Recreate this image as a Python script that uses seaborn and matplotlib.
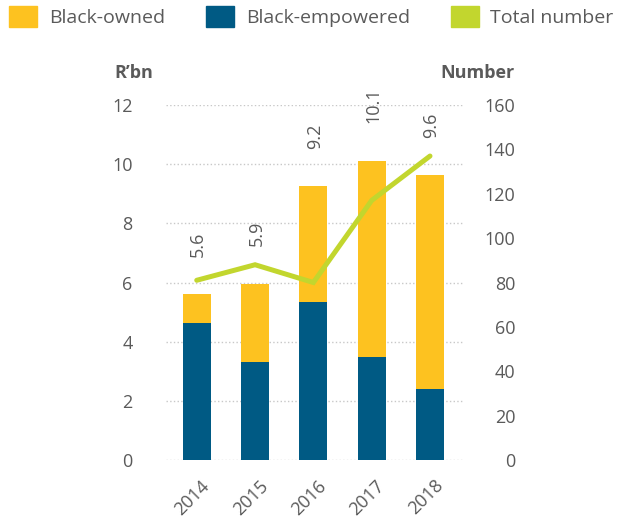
import numpy as np
import matplotlib
matplotlib.use('Agg')
import matplotlib.pyplot as plt
import matplotlib.transforms as mtransforms
from matplotlib.patches import Patch
import seaborn as sns

years = ['2014', '2015', '2016', '2017', '2018']
black_empowered = [4.64, 3.32, 5.34, 3.49, 2.41]
black_owned = [0.97, 2.63, 3.92, 6.62, 7.22]
total_labels = ['5.6', '5.9', '9.2', '10.1', '9.6']
total_number = [81, 88, 80, 117, 137]

YELLOW = '#fdc220'
BLUE = '#005a84'
GREEN = '#c2d62e'
GREY = '#5a5a5a'

sns.set_style('white')
plt.rcParams['font.family'] = ['Open Sans', 'DejaVu Sans']
plt.rcParams['text.color'] = GREY

totals = [e + o for e, o in zip(black_empowered, black_owned)]

fig = plt.figure(figsize=(6.29, 5.24), dpi=100)
ax = fig.add_axes([166 / 629, 1 - 460 / 524, 298 / 629, 355 / 524])

# stacked bars: yellow full height, blue drawn over it from zero
sns.barplot(x=years, y=totals, color=YELLOW, saturation=1, width=0.48,
            linewidth=0, ax=ax)
sns.barplot(x=years, y=black_empowered, color=BLUE, saturation=1, width=0.48,
            linewidth=0, ax=ax)

ax.set_xlim(-0.527, 4.583)
ax.set_ylim(0, 12)
ax.set_yticks(range(0, 13, 2))
ax.set_xlabel('')
ax.set_ylabel('')
ax.grid(axis='y', linestyle=':', color='#c8c8c8', linewidth=1)
ax.set_axisbelow(True)
sns.despine(ax=ax, left=True, bottom=True)
ax.tick_params(axis='y', length=0, pad=24, labelsize=13, labelcolor=GREY)
ax.tick_params(axis='x', length=0, pad=12, labelsize=13, labelcolor=GREY)
shift = mtransforms.ScaledTranslation(4 / 100, 0, fig.dpi_scale_trans)
for lbl in ax.get_xticklabels():
    lbl.set_rotation(45)
    lbl.set_ha('right')
    lbl.set_rotation_mode('anchor')
    lbl.set_transform(lbl.get_transform() + shift)

for i, t in enumerate(total_labels):
    ax.annotate(t, xy=(i, totals[i]), xytext=(1, 27), textcoords='offset points',
                rotation=90, ha='center', va='bottom', fontsize=13, color=GREY)

ax2 = ax.twinx()
sns.lineplot(x=np.arange(len(years)), y=total_number, color=GREEN, linewidth=3.6,
             ax=ax2, solid_joinstyle='miter')
ax2.set_ylim(0, 160)
ax2.set_yticks(range(0, 161, 20))
ax2.set_ylabel('')
sns.despine(ax=ax2, left=True, bottom=True, right=True)
ax2.tick_params(axis='y', length=0, pad=37, labelsize=13, labelcolor=GREY)
for lbl in ax2.get_yticklabels():
    lbl.set_ha('right')
ax2.grid(False)

fig.text(153 / 629, 1 - 78 / 524, 'R\u2019bn', ha='right', va='baseline',
         fontsize=13, fontweight='bold', color=GREY)
fig.text(515 / 629, 1 - 78 / 524, 'Number', ha='right', va='baseline',
         fontsize=13, fontweight='bold', color=GREY)

handles = [Patch(color=YELLOW, label='Black-owned'),
           Patch(color=BLUE, label='Black-empowered'),
           Patch(color=GREEN, label='Total number')]
fig.legend(handles=handles, loc='upper left', bbox_to_anchor=(9 / 629, 1 - 6 / 524),
           ncol=3, frameon=False, fontsize=14, handlelength=1.45, handleheight=1.3,
           handletextpad=0.6, columnspacing=2.1, borderpad=0, borderaxespad=0,
           labelcolor=GREY)

fig.savefig('out.png', dpi=100)
